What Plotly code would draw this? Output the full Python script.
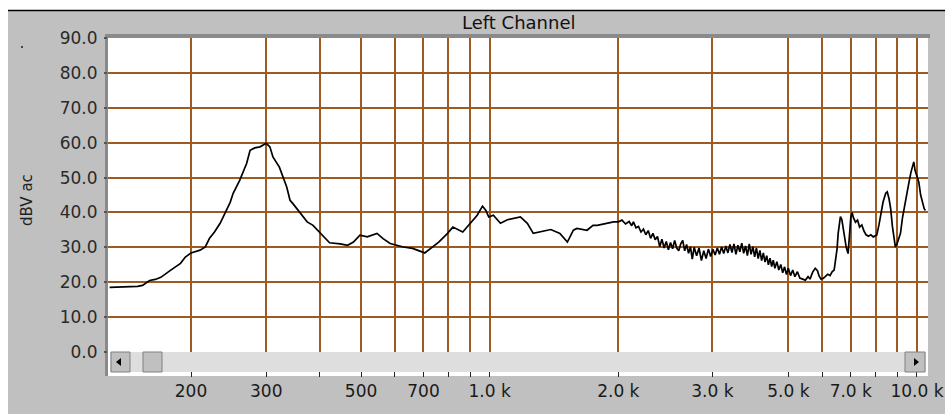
import plotly.graph_objects as go

# Frequency response of the left channel (Hz, dBV)
freq_hz = [
    129, 140, 150, 154, 160, 165, 170, 179, 189, 194, 200, 210, 216, 221, 227, 234, 240, 247, 251, 260,
    270, 275, 282, 290, 300, 306, 311, 322, 335, 341, 346, 360, 374, 386, 400, 422, 447, 465, 480, 497,
    517, 545, 563, 585, 628, 660, 705, 735, 760, 797, 820, 865, 900, 935, 962, 980, 995, 1020, 1060, 1100,
    1180, 1225, 1265, 1310, 1390, 1460, 1520, 1570, 1600, 1690, 1745, 1785, 1920, 1950,
    2000, 2040, 2080, 2120, 2150, 2170, 2200, 2230, 2260, 2290, 2320, 2350, 2380, 2410, 2440, 2470,
    2500, 2530, 2560, 2590, 2620, 2650, 2680, 2710, 2740, 2770, 2800, 2830, 2860, 2890, 2920, 2950,
    2980, 3010, 3050, 3090, 3130, 3170, 3210, 3250, 3290, 3330, 3370, 3410, 3450, 3490, 3530, 3570,
    3610, 3650, 3690, 3730, 3770, 3810, 3850, 3890, 3930, 3970, 4010, 4050, 4090, 4130, 4170, 4210,
    4250, 4290, 4330, 4370, 4410, 4450, 4490, 4530, 4570, 4610, 4650, 4700, 4750, 4800, 4850, 4900,
    4950, 5000, 5060, 5120, 5180, 5250, 5320, 5400, 5480, 5560, 5620, 5700, 5780, 5850, 5900, 5960,
    6030, 6100, 6180, 6260, 6330, 6400, 6450, 6500, 6540, 6580, 6620, 6670, 6720, 6770, 6830, 6900,
    6950, 7000, 7050, 7100, 7180, 7260, 7340, 7430, 7520, 7600, 7700, 7800, 7900, 8050, 8150, 8250,
    8330, 8450, 8520, 8600, 8680, 8760, 8840, 8900, 8980, 9050, 9150, 9250, 9350, 9400, 9500, 9580,
    9680, 9780, 9830, 9900, 10000, 10100, 10200, 10300, 10400, 10470,
]
level_dbv = [
    18.5, 18.6, 18.8, 19.1, 20.5, 20.8, 21.4, 23.4, 25.4, 27.2, 28.4, 29.2, 30.1, 32.6, 34.4, 36.9, 39.8, 42.9, 45.5, 49.2,
    54.1, 57.8, 58.5, 58.8, 59.8, 58.8, 55.9, 53.0, 47.3, 43.5, 42.6, 39.8, 37.3, 36.3, 34.4, 31.3, 31.0, 30.6, 31.5, 33.5,
    33.0, 34.0, 32.5, 31.1, 30.1, 29.7, 28.4, 30.1, 31.5, 34.0, 35.8, 34.4, 36.9, 39.2, 41.8, 40.6, 38.7, 39.2, 36.9, 37.9,
    38.7, 36.9, 34.0, 34.4, 35.1, 34.0, 31.5, 34.9, 35.4, 34.9, 36.3, 36.3, 37.0, 37.3,
    37.3, 37.8, 36.7, 37.4, 36.2, 37.3, 35.6, 36.0, 34.4, 35.2, 33.6, 34.8, 32.6, 34.0, 32.2, 33.1,
    30.2, 32.3, 29.8, 31.7, 29.3, 31.4, 29.6, 32.0, 29.8, 29.0, 31.0, 32.0, 29.0, 30.8, 28.3, 30.2,
    26.6, 30.0, 27.6, 29.8, 26.2, 29.0, 26.8, 29.5, 27.4, 29.4, 27.8, 29.8, 28.0, 30.1, 28.2, 30.4,
    28.4, 30.8, 28.5, 31.0, 28.0, 30.6, 28.7, 31.2, 28.3, 30.4, 27.6, 31.0, 28.0, 30.2, 27.3, 29.8,
    26.8, 29.1, 26.2, 28.4, 25.8, 27.6, 25.0, 26.9, 24.5, 26.3, 24.0, 25.9, 23.5, 25.1, 22.7, 24.4,
    22.2, 24.0, 21.9, 23.5, 21.6, 23.0, 21.2, 21.0, 20.6, 21.6, 20.9, 22.9, 24.0, 23.3, 21.8, 20.9,
    21.1, 21.6, 22.3, 21.9, 23.0, 23.5, 26.0, 29.5, 34.0, 37.5, 38.8, 38.0, 35.5, 33.0, 30.0, 28.2,
    34.0, 38.5, 40.0, 38.5, 37.2, 37.8, 35.8, 36.4, 34.6, 33.6, 33.2, 33.6, 33.0, 33.5, 36.5, 40.5,
    43.0, 45.5, 45.9, 44.0, 41.0, 36.0, 31.5, 30.1, 31.0, 32.5, 34.0, 38.5, 42.0, 43.5, 47.0, 48.7,
    51.5, 54.0, 54.5, 52.0, 50.0, 48.7, 45.0, 42.5, 41.0, 40.6,
]

x_tick_vals = [200, 300, 400, 500, 600, 700, 800, 900, 1000, 2000, 3320, 5000, 6000, 7000, 8000, 9000, 10000]
x_tick_text = ["200", "300", "", "500", "", "700", "", "", "1.0 k", "2.0 k", "3.0 k", "5.0 k", "",
               "7.0 k", "", "", "10.0 k"]
y_tick_vals = [0, 10, 20, 30, 40, 50, 60, 70, 80, 90]
y_tick_text = ["0.0", "10.0", "20.0", "30.0", "40.0", "50.0", "60.0", "70.0", "80.0", "90.0"]

W, H = 945, 414
ML, MR, MT, MB = 108, 17, 38, 62
PW, PH = W - ML - MR, H - MT - MB
GRID = "#9c5b20"
PANEL = "#c0c0c0"
FONT = "DejaVu Sans"


def px(x):
    return (x - ML) / PW


def py(y):
    return (H - MB - y) / PH


def rect(x0, y0, x1, y1, fill, line=None, layer="above", width=1):
    return dict(type="rect", xref="paper", yref="paper",
                x0=px(x0), x1=px(x1), y0=py(y1), y1=py(y0),
                fillcolor=fill, line=dict(color=line or fill, width=width if line else 0),
                layer=layer)


def tri(points, layer="above"):
    d = "M " + " L ".join(f"{px(a)},{py(b)}" for a, b in points) + " Z"
    return dict(type="path", xref="paper", yref="paper", path=d,
                fillcolor="black", line=dict(color="black", width=0), layer=layer)


shapes = [
    # white margins outside the window panel, and its top frame line
    rect(0, 0, W, 10, "white", layer="below"),
    rect(0, 0, 8, H, "white", layer="below"),
    dict(type="line", xref="paper", yref="paper", x0=px(8), x1=px(W), y0=py(10.5), y1=py(10.5),
         line=dict(color="black", width=1.5), layer="below"),
    # white strip under the scrollbar and sunken edges of the chart pane
    rect(108, 352, 928, 376, "white", layer="below"),
    rect(105, 34, 930, 38, "#8a8a8a", layer="below"),
    rect(105, 34, 108, 376, "#8a8a8a", layer="below"),
    # scrollbar
    rect(110, 352, 926, 372, "#dedede"),
    rect(111, 352, 130, 372, PANEL, line="#808080"),
    tri([(116, 362), (121, 358), (121, 366)]),
    rect(143, 352, 162, 372, PANEL, line="#808080"),
    rect(905, 352, 925, 372, PANEL, line="#808080"),
    tri([(919, 362), (914, 358), (914, 366)]),
    # stray dot near the axis title
    rect(21, 46, 23, 48, "#444444"),
]

fig = go.Figure(go.Scatter(
    x=freq_hz, y=level_dbv, mode="lines",
    line=dict(color="black", width=1.7), hoverinfo="skip", showlegend=False,
))

fig.update_layout(
    width=W, height=H,
    margin=dict(l=ML, r=MR, t=MT, b=MB, pad=0, autoexpand=False),
    paper_bgcolor=PANEL, plot_bgcolor="white",
    font=dict(family=FONT, color="#1a1a1a"),
    shapes=shapes,
    annotations=[
        dict(text="Left Channel", xref="paper", yref="paper", x=px(518), y=py(23),
             xanchor="center", yanchor="middle", showarrow=False,
             font=dict(family=FONT, size=18, color="#111111")),
        dict(text="dBV ac", xref="paper", yref="paper", x=px(27), y=py(200),
             xanchor="center", yanchor="middle", showarrow=False, textangle=-90,
             font=dict(family=FONT, size=15, color="#222222")),
    ],
    xaxis=dict(
        type="log", range=[2.10679, 4.02581], automargin=False,
        tickmode="array", tickvals=x_tick_vals, ticktext=x_tick_text,
        showgrid=True, gridcolor=GRID, gridwidth=2,
        ticks="outside", ticklen=24, tickcolor="#222222", tickwidth=1,
        ticklabelstandoff=0,
        showline=False, zeroline=False,
        tickfont=dict(family=FONT, size=17, color="#1a1a1a"),
    ),
    yaxis=dict(
        range=[0, 90], automargin=False,
        tickmode="array", tickvals=y_tick_vals, ticktext=y_tick_text,
        showgrid=True, gridcolor=GRID, gridwidth=2,
        ticks="outside", ticklen=3, tickcolor="#555555", tickwidth=2,
        ticklabelstandoff=3,
        showline=False, zeroline=False,
        tickfont=dict(family=FONT, size=17, color="#2a2a2a"),
    ),
)

fig.write_html("out.html")
